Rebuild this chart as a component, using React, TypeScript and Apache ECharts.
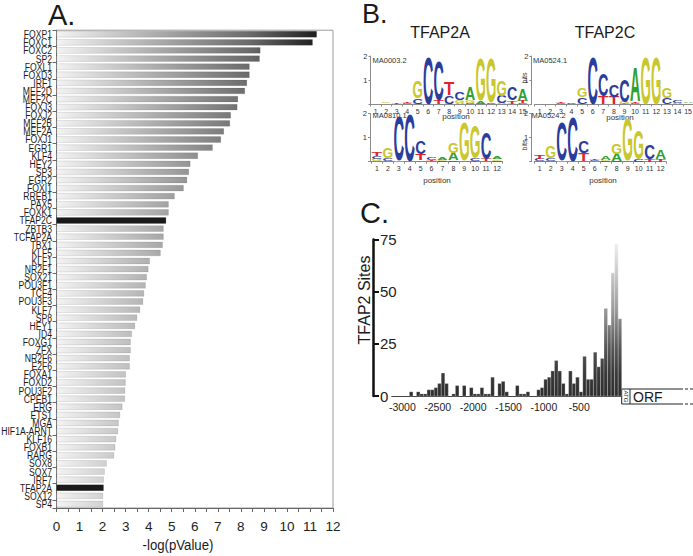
import React, { useEffect, useRef } from "react";
import * as echarts from "echarts";

// ---------- Panel A data ----------
const GENES = ["FOXP1","FOXC1","FOXC2","SP2","FOXL1","FOXD3","IRF1","MEF2D","MEF2C","FOXJ3","FOXJ2","MEF2B","MEF2A","FOXJ1","EGR1","KLF4","HEY2","SP3","EGR2","FOXI1","RREB1","PAX5","FOXK1","TFAP2C","ZBTB3","TCFAP2A","TBX1","KLF5","KLF1","NR2F1","SOX21","POU3F1","TCF4","POU3F3","KLF7","SP8","HEY1","ID4","FOXG1","ZFX","NR2F6","E2F6","FOXA1","FOXD2","POU3F2","CPEB1","ERG","ETS1","MGA","HIF1A-ARNT","KLF16","FOXB1","RARG","SOX8","SOX7","IRF7","TFAP2A","SOX12","SP4"];
const NEG_LOG_P = [11.3,11.12,8.85,8.82,8.38,8.38,8.27,8.18,7.88,7.85,7.57,7.53,7.27,7.14,6.78,6.14,5.81,5.75,5.67,5.52,5.13,4.87,4.87,4.76,4.65,4.65,4.61,4.52,4.05,3.99,3.92,3.87,3.8,3.76,3.63,3.5,3.41,3.27,3.22,3.22,3.18,3.18,3.01,3.0,2.98,2.97,2.86,2.76,2.7,2.67,2.59,2.55,2.5,2.18,2.09,2.05,2.05,2.02,2.02];
const HIGHLIGHT = ["TFAP2C", "TFAP2A"];
const A_X_MIN = 0;
const A_X_MAX = 12;

// ---------- Panel B data (sequence logos, bottom -> top per position, bits) ----------
type Stack = [string, number][];
const LOGO_MA0003_2: Stack[] = [
  [["T",0.01],["G",0.01],["C",0.01]],
  [["C",0.02],["A",0.02],["G",0.03]],
  [["A",0.02],["C",0.02],["T",0.04]],
  [["A",0.02],["C",0.04],["T",0.06]],
  [["T",0.03],["C",0.22],["G",0.68]],
  [["C",1.95]],
  [["T",0.15],["C",1.65]],
  [["G",0.03],["C",0.33],["T",0.55]],
  [["A",0.07],["G",0.12],["C",0.3]],
  [["C",0.05],["G",0.1],["A",0.55]],
  [["C",0.03],["A",0.12],["G",1.75]],
  [["C",0.05],["G",1.85]],
  [["A",0.03],["C",0.3],["G",0.65]],
  [["G",0.03],["T",0.12],["C",0.55]],
  [["C",0.05],["T",0.1],["A",0.5]],
];
const LOGO_MA0524_1: Stack[] = [
  [["G",0.02],["A",0.02],["C",0.02]],
  [["A",0.02],["C",0.02],["G",0.02]],
  [["A",0.02],["C",0.03],["T",0.06]],
  [["A",0.02],["G",0.02],["C",0.03]],
  [["T",0.03],["C",0.25],["G",0.4]],
  [["C",1.97]],
  [["T",0.33],["C",0.9]],
  [["T",0.33],["C",0.47]],
  [["T",0.04],["G",0.08],["C",0.95]],
  [["C",0.04],["T",0.06],["A",1.42]],
  [["G",1.95]],
  [["G",1.95]],
  [["C",0.28],["G",0.45]],
  [["T",0.02],["A",0.03],["C",0.12]],
  [["G",0.02],["C",0.02],["A",0.06]],
];
const LOGO_MA0810_1: Stack[] = [
  [["A",0.04],["G",0.08],["C",0.1],["T",0.18]],
  [["A",0.04],["C",0.12],["G",0.45]],
  [["G",0.04],["C",1.85]],
  [["C",2.0]],
  [["A",0.04],["T",0.25],["C",0.55]],
  [["A",0.03],["T",0.06],["C",0.08]],
  [["C",0.04],["G",0.04],["A",0.1]],
  [["C",0.04],["A",0.3],["G",0.45]],
  [["A",0.05],["G",1.6]],
  [["T",0.03],["C",0.1],["G",1.4]],
  [["A",0.03],["T",0.08],["C",1.1]],
  [["C",0.04],["G",0.06],["A",0.12]],
];
const LOGO_MA0524_2: Stack[] = [
  [["A",0.03],["C",0.08],["T",0.15]],
  [["A",0.04],["C",0.1],["G",0.5]],
  [["G",0.05],["C",1.6]],
  [["C",1.85]],
  [["A",0.03],["T",0.32],["C",0.5]],
  [["A",0.02],["C",0.04],["T",0.05]],
  [["C",0.03],["G",0.05],["A",0.15]],
  [["C",0.03],["A",0.3],["G",0.45]],
  [["A",0.05],["G",1.75]],
  [["C",0.1],["G",1.2]],
  [["T",0.08],["C",0.62]],
  [["T",0.1],["A",0.4]],
];
const LETTERS = ["A", "C", "G", "T"];
const LETTER_COLORS: Record<string, string> = { A: "#30a030", C: "#2a3c9c", G: "#c9c72c", T: "#e42328" };
const LETTER_ADV: Record<string, number> = { A: 0.722, C: 0.722, G: 0.778, T: 0.611 };

// ---------- Panel C data ----------
const C_BIN_START = -3150;
const C_BIN_WIDTH = 50;
const C_COUNTS = [0,0,0,0,0,2,0,2,1,1,3,3,4,6,11,6,0,1,5,0,5,0,4,1,1,4,1,1,9,0,6,7,2,0,0,5,1,1,2,0,0,3,4,8,9,12,17,12,6,1,12,6,9,2,19,8,8,21,14,18,42,34,59,73,37];
const C_X_LABELS = [-3000, -2500, -2000, -1500, -1000, -500];
const C_Y_MAX = 75;
const C_Y_STEP = 25;

const ARIAL = "'Liberation Sans', Arial, sans-serif";

function logoData(logo: Stack[]) {
  const out: number[][] = [];
  logo.forEach((stack, i) => {
    let y = 0;
    stack.forEach(([l, h]) => {
      out.push([i, y, y + h, LETTERS.indexOf(l)]);
      y += h;
    });
  });
  return out;
}

function letterRender(params: any, api: any) {
  const i = api.value(0);
  const y0 = api.value(1);
  const y1 = api.value(2);
  const letter = LETTERS[api.value(3)];
  const pb = api.coord([i, y0]);
  const pt = api.coord([i, y1]);
  const h = pb[1] - pt[1];
  if (h < 0.35) return null;
  const bw = api.size([1, 0])[0];
  const FS = 40;
  return {
    type: "text",
    x: pb[0],
    y: (pb[1] + pt[1]) / 2,
    scaleX: (bw * 0.98) / (LETTER_ADV[letter] * FS),
    scaleY: h / (0.716 * FS),
    silent: true,
    style: {
      text: letter,
      font: `bold ${FS}px ${ARIAL}`,
      fill: LETTER_COLORS[letter],
      align: "center",
      verticalAlign: "middle",
    },
  };
}

function logoAxes(gridIndex: number, n: number, yOffset: number) {
  const x = {
    gridIndex,
    type: "category",
    data: Array.from({ length: n }, (_, k) => String(k + 1)),
    axisLine: { show: true, onZero: false, lineStyle: { color: "#8a8a8a", width: 1 } },
    axisTick: { show: true, length: 2, lineStyle: { color: "#8a8a8a" } },
    axisLabel: { fontSize: 7, color: "#333", margin: 3, fontFamily: ARIAL, interval: 0 },
    splitLine: { show: false },
  };
  const y = {
    gridIndex,
    type: "value",
    min: 0,
    max: 2,
    interval: 1,
    offset: yOffset,
    axisLine: { show: true, onZero: false, lineStyle: { color: "#8a8a8a", width: 1 } },
    axisTick: { show: true, length: 2, lineStyle: { color: "#8a8a8a" } },
    axisLabel: { fontSize: 7.5, color: "#333", margin: 3, fontFamily: ARIAL, formatter: (v: number) => (v === 0 ? "" : String(v)) },
    splitLine: { show: false },
  };
  return { x, y };
}

function txt(text: string, x: number, y: number, size: number, opts: any = {}) {
  return {
    type: "text",
    x,
    y,
    rotation: opts.rotation || 0,
    scaleX: opts.scaleX || 1,
    silent: true,
    style: {
      text,
      font: `${opts.weight || "normal"} ${size}px ${ARIAL}`,
      fill: opts.color || "#1a1a1a",
      align: opts.align || "left",
      verticalAlign: "middle",
    },
  };
}

function seg(x1: number, y1: number, x2: number, y2: number, dash?: number[]) {
  return {
    type: "line",
    silent: true,
    shape: { x1, y1, x2, y2 },
    style: { stroke: "#222", lineWidth: 1, lineDash: dash },
  };
}

export default function App() {
  const ref = useRef<HTMLDivElement>(null);
  useEffect(() => {
    if (!ref.current) return;
    const chart = echarts.init(ref.current, undefined, { renderer: "svg" });

    const aGrad = new echarts.graphic.LinearGradient(56.5, 0, 333, 0, [
      { offset: 0, color: "#f3f3f3" },
      { offset: 0.33, color: "#b2b2b2" },
      { offset: 0.7, color: "#6a6a6a" },
      { offset: 0.94, color: "#1e1e1e" },
      { offset: 1, color: "#101010" },
    ], true);
    const cGrad = new echarts.graphic.LinearGradient(0, 396, 0, 239.5, [
      { offset: 0, color: "#2e2e2e" },
      { offset: 0.15, color: "#3a3a3a" },
      { offset: 0.3, color: "#555555" },
      { offset: 0.55, color: "#9a9a9a" },
      { offset: 0.8, color: "#cccccc" },
      { offset: 1, color: "#f5f5f5" },
    ], true);

    const l1 = logoAxes(1, 15, 0);
    const l2 = logoAxes(2, 15, 3);
    const l3 = logoAxes(3, 12, 1.5);
    const l4 = logoAxes(4, 12, 3);
    const gridBase = { outerBoundsMode: "none", containLabel: false };

    const option: any = {
      animation: false,
      backgroundColor: "#ffffff",
      grid: [
        { ...gridBase, left: 56.5, top: 30.2, width: 276.5, height: 477.8, show: true, borderColor: "#9a9a9a", borderWidth: 1, backgroundColor: "transparent" },
        { ...gridBase, left: 370.5, top: 56, width: 157.5, height: 48.5 },
        { ...gridBase, left: 534.4, top: 56, width: 159, height: 48.5 },
        { ...gridBase, left: 371.5, top: 113.5, width: 131, height: 48.2 },
        { ...gridBase, left: 534.2, top: 113.5, width: 132, height: 48.2 },
        { ...gridBase, left: 391.7, top: 239.5, width: 230, height: 156.5 },
      ],
      xAxis: [
        {
          gridIndex: 0,
          type: "value",
          min: A_X_MIN,
          max: A_X_MAX,
          interval: 1,
          axisLine: { show: true, onZero: false, lineStyle: { color: "#666", width: 1 } },
          axisTick: { show: true, length: 4, lineStyle: { color: "#666" } },
          minorTick: { show: true, splitNumber: 2, length: 4, lineStyle: { color: "#666" } },
          axisLabel: { fontSize: 13.5, color: "#222", margin: 11, fontFamily: ARIAL },
          splitLine: { show: false },
        },
        l1.x, l2.x, l3.x, l4.x,
        {
          gridIndex: 5,
          type: "value",
          min: C_BIN_START,
          max: C_BIN_START + C_COUNTS.length * C_BIN_WIDTH,
          axisLine: { show: true, onZero: false, lineStyle: { color: "#444", width: 1 } },
          axisTick: { show: false },
          axisLabel: { customValues: C_X_LABELS, formatter: (v: number) => String(v), fontSize: 10.5, color: "#222", margin: 5, fontFamily: ARIAL },
          splitLine: { show: false },
        },
      ],
      yAxis: [
        {
          gridIndex: 0,
          type: "category",
          inverse: true,
          data: GENES,
          axisLine: { show: true, onZero: false, lineStyle: { color: "#666", width: 1 } },
          axisTick: { show: true, length: 4, lineStyle: { color: "#666" } },
          axisLabel: { show: false },
          splitLine: { show: false },
        },
        l1.y, l2.y, l3.y, l4.y,
        {
          gridIndex: 5,
          type: "value",
          min: 0,
          max: C_Y_MAX,
          interval: C_Y_STEP,
          offset: 18.7,
          axisLine: { show: true, onZero: false, lineStyle: { color: "#111", width: 2.5 } },
          axisTick: { show: true, inside: true, length: 6, lineStyle: { color: "#111", width: 2 } },
          axisLabel: { inside: true, margin: 7, fontSize: 15, color: "#222", fontFamily: ARIAL },
          splitLine: { show: false },
        },
      ],
      series: [
        {
          type: "bar",
          xAxisIndex: 0,
          yAxisIndex: 0,
          barCategoryGap: "22%",
          data: GENES.map((g, i) =>
            HIGHLIGHT.includes(g) ? { value: NEG_LOG_P[i], itemStyle: { color: "#1b1b1b" } } : NEG_LOG_P[i]
          ),
          itemStyle: { color: aGrad, borderColor: "rgba(0,0,0,0.2)", borderWidth: 0.5 },
        },
        {
          // condensed category labels for panel A, positioned by the category axis
          type: "custom",
          xAxisIndex: 0,
          yAxisIndex: 0,
          encode: { y: 0 },
          data: GENES.map((g, i) => [i]),
          clip: false,
          silent: true,
          renderItem: (params: any, api: any) => {
            const idx = api.value(0);
            const p = api.coord([0, idx]);
            return {
              type: "text",
              x: p[0] - 4.5,
              y: p[1],
              scaleX: 0.75,
              silent: true,
              style: {
                text: GENES[idx],
                font: `11.5px ${ARIAL}`,
                fill: "#1a1a1a",
                align: "right",
                verticalAlign: "middle",
              },
            };
          },
        },
        ...[LOGO_MA0003_2, LOGO_MA0524_1, LOGO_MA0810_1, LOGO_MA0524_2].map((logo, k) => ({
          type: "custom",
          xAxisIndex: k + 1,
          yAxisIndex: k + 1,
          renderItem: letterRender,
          encode: { x: 0, y: [1, 2] },
          data: logoData(logo),
          silent: true,
        })),
        {
          type: "custom",
          xAxisIndex: 5,
          yAxisIndex: 5,
          encode: { x: [0, 1], y: 2 },
          data: C_COUNTS.map((c, i) => [C_BIN_START + i * C_BIN_WIDTH, C_BIN_START + (i + 1) * C_BIN_WIDTH, c]),
          renderItem: (params: any, api: any) => {
            const p0 = api.coord([api.value(0), 0]);
            const p1 = api.coord([api.value(1), api.value(2)]);
            const h = p0[1] - p1[1];
            if (h <= 0) return null;
            return {
              type: "rect",
              shape: { x: p0[0], y: p1[1], width: p1[0] - p0[0], height: h },
              style: { fill: cGrad, stroke: "rgba(255,255,255,0.45)", lineWidth: 0.5 },
            };
          },
        },
      ],
      graphic: [
        txt("A.", 48, 15, 29),
        txt("B.", 362, 14, 27),
        txt("C.", 360, 212.5, 29),
        txt("TFAP2A", 440, 32.5, 16, { align: "center" }),
        txt("TFAP2C", 605, 32.5, 16, { align: "center" }),
        txt("MA0003.2", 372.5, 60, 7.5, { color: "#333" }),
        txt("MA0524.1", 533, 60, 7.5, { color: "#333" }),
        txt("MA0810.1", 372.5, 115, 7.5, { color: "#333" }),
        txt("MA0524.2", 531.5, 115.5, 7.5, { color: "#333" }),
        txt("position", 456, 116.5, 8, { align: "center", color: "#333" }),
        txt("position", 620, 117, 8, { align: "center", color: "#333" }),
        txt("position", 437, 180, 8, { align: "center", color: "#333" }),
        txt("position", 603, 180, 8, { align: "center", color: "#333" }),
        txt("bits", 524.5, 78, 7, { align: "center", color: "#333", rotation: Math.PI / 2 }),
        txt("bits", 524.5, 145, 7, { align: "center", color: "#333", rotation: Math.PI / 2 }),
        txt("-log(pValue)", 178, 545, 15, { align: "center", scaleX: 0.88 }),
        txt("TFAP2 Sites", 364, 300, 16, { align: "center", rotation: Math.PI / 2 }),
        txt("ORF", 633, 397, 14),
        txt("ATG", 625.8, 396.5, 6, { align: "center", rotation: -Math.PI / 2 }),
        seg(621.7, 389, 680, 389),
        seg(621.7, 404, 680, 404),
        seg(680, 389, 693, 389, [3, 2]),
        seg(680, 404, 693, 404, [3, 2]),
        seg(621.7, 389, 621.7, 404),
        seg(630, 389, 630, 404),
      ],
    };
    chart.setOption(option);
    return () => chart.dispose();
  }, []);
  return <div ref={ref} style={{ position: "absolute", left: 0, top: 0, width: 693, height: 556 }} />;
}
